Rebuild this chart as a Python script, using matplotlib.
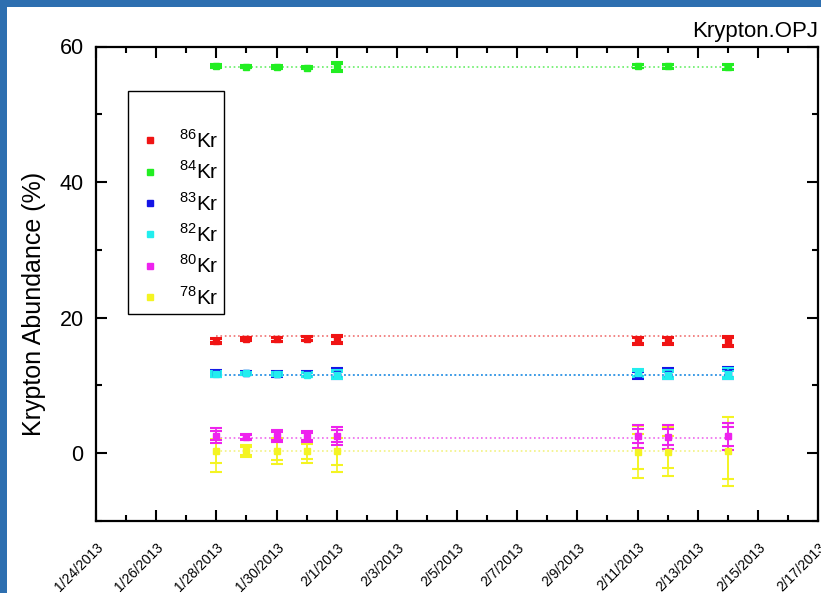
import matplotlib
matplotlib.use('Agg')
import matplotlib.pyplot as plt
import matplotlib.dates as mdates
import matplotlib.ticker as mticker
from matplotlib.patches import Rectangle
from datetime import datetime

plt.rcParams['font.family'] = ['Liberation Sans', 'DejaVu Sans']
plt.rcParams['mathtext.fontset'] = 'custom'
plt.rcParams['mathtext.rm'] = 'Liberation Sans'

# measurement dates
dates = ['2013-01-28', '2013-01-29', '2013-01-30', '2013-01-31', '2013-02-01',
         '2013-02-11', '2013-02-12', '2013-02-14']

# abundances (%) with outer / inner error bars
kr86 = [16.6, 16.8, 16.8, 16.9, 16.8, 16.6, 16.6, 16.5]
kr86_err = [0.45, 0.3, 0.4, 0.4, 0.7, 0.6, 0.6, 0.8]
kr86_err2 = [0.25, 0.15, 0.2, 0.2, 0.4, 0.35, 0.4, 0.5]

kr84 = [57.1, 57.0, 57.0, 56.9, 57.0, 57.1, 57.1, 57.0]
kr84_err = [0.3, 0.2, 0.25, 0.2, 0.7, 0.3, 0.35, 0.4]
kr84_err2 = [0.15, 0.1, 0.15, 0.1, 0.4, 0.2, 0.2, 0.25]

kr83 = [11.8, 11.8, 11.7, 11.7, 11.7, 11.6, 11.7, 11.8]
kr83_err = [0.5, 0.3, 0.45, 0.45, 0.8, 0.7, 0.8, 0.9]
kr83_err2 = [0.3, 0.15, 0.25, 0.25, 0.5, 0.4, 0.45, 0.55]

kr82 = [11.7, 11.8, 11.7, 11.6, 11.6, 11.8, 11.6, 11.7]
kr82_err = [0.4, 0.25, 0.35, 0.35, 0.7, 0.6, 0.7, 0.8]
kr82_err2 = [0.2, 0.1, 0.2, 0.2, 0.4, 0.35, 0.4, 0.45]

kr80 = [2.6, 2.4, 2.5, 2.5, 2.5, 2.5, 2.4, 2.5]
kr80_err = [1.1, 0.5, 0.9, 0.8, 1.3, 1.7, 1.8, 2.0]
kr80_err2 = [0.7, 0.3, 0.6, 0.5, 0.9, 1.0, 1.2, 1.4]

kr78 = [0.3, 0.3, 0.3, 0.3, 0.3, 0.2, 0.2, 0.3]
kr78_err = [3.0, 0.9, 1.9, 1.7, 3.1, 3.8, 3.6, 5.1]
kr78_err2 = [1.8, 0.6, 1.3, 1.1, 2.0, 2.6, 2.4, 4.1]

# mean (reference) lines
means = {'86': 17.3, '84': 57.0, '83': 11.5, '82': 11.5, '80': 2.3, '78': 0.35}

COLORS = {'86': '#f01414', '84': '#22ee22', '83': '#1414e6', '82': '#22eeee',
          '80': '#ee22ee', '78': '#f4f422'}
LINE_COLORS = {'86': '#f07070', '84': '#66ee66', '83': '#3a9ae6', '82': '#3a9ae6',
               '80': '#ee66ee', '78': '#f2f280'}

series = [('86', kr86, kr86_err, kr86_err2),
          ('84', kr84, kr84_err, kr84_err2),
          ('83', kr83, kr83_err, kr83_err2),
          ('82', kr82, kr82_err, kr82_err2),
          ('80', kr80, kr80_err, kr80_err2),
          ('78', kr78, kr78_err, kr78_err2)]
draw_order = ['78', '80', '83', '82', '84', '86']

x = [datetime.strptime(d, '%Y-%m-%d') for d in dates]

fig = plt.figure(figsize=(8.21, 5.93), dpi=100)
fig.patch.set_facecolor('white')
ax = fig.add_axes([96 / 821, 1 - 521 / 593, 722 / 821, 474.5 / 593])

lookup = {s[0]: s for s in series}
handles = {}
for z, iso in enumerate(draw_order):
    _, vals, err, err2 = lookup[iso]
    c = COLORS[iso]
    ax.hlines(means[iso], x[0], x[-1], colors=LINE_COLORS[iso], linestyles=':',
              linewidth=1.2, zorder=1)
    ax.errorbar(x, vals, yerr=err, fmt='none', ecolor=c, elinewidth=1.2,
                capsize=4.5, capthick=1.5, zorder=2 + z * 0.1)
    ax.errorbar(x, vals, yerr=err2, fmt='none', ecolor=c, elinewidth=1.2,
                capsize=4.5, capthick=1.5, zorder=2 + z * 0.1)
    h, = ax.plot(x, vals, 's', color=c, markersize=4.8, linestyle='none',
                 zorder=3 + z * 0.1, label='$^{%s}$Kr' % iso)
    handles[iso] = h

leg = ax.legend([handles[s[0]] for s in series], [handles[s[0]].get_label() for s in series],
                loc='upper left', bbox_to_anchor=(0.044, 0.906), borderaxespad=0,
                fontsize=15, title=' ', title_fontsize=19, fancybox=False,
                edgecolor='black', framealpha=1, handlelength=1.6, handletextpad=0.6,
                labelspacing=0.42, borderpad=0.25)
leg.get_frame().set_linewidth(1.0)

ax.set_ylim(-10, 60)
ax.set_xlim(datetime(2013, 1, 24), datetime(2013, 2, 17))
ax.yaxis.set_major_locator(mticker.MultipleLocator(20))
ax.yaxis.set_minor_locator(mticker.MultipleLocator(10))
ax.xaxis.set_major_locator(mdates.DayLocator(interval=2))
ax.xaxis.set_minor_locator(mdates.DayLocator())
ax.xaxis.set_major_formatter(mticker.FuncFormatter(
    lambda v, p: '{d.month}/{d.day}/{d.year}'.format(d=mdates.num2date(v))))

ax.tick_params(which='both', direction='in', top=True, right=True, width=1.5)
ax.tick_params(which='major', length=8)
ax.tick_params(which='minor', length=4)
ax.tick_params(axis='y', labelsize=15.5, pad=9)
ax.tick_params(axis='x', labelsize=10, pad=14)
for lbl in ax.get_xticklabels():
    lbl.set_rotation(45)
    lbl.set_ha('right')
    lbl.set_rotation_mode('anchor')
for sp in ax.spines.values():
    sp.set_linewidth(1.6)

ax.set_ylabel('Krypton Abundance (%)', fontsize=18)
ax.yaxis.set_label_coords(-0.069, 0.457)
ax.set_title('Krypton.OPJ', loc='right', fontsize=16, pad=7)

# blue frame strips on top and left
border = '#2e6fb0'
fig.patches.append(Rectangle((0, 1 - 7 / 593), 1, 7 / 593, transform=fig.transFigure,
                             facecolor=border, edgecolor='none', zorder=10))
fig.patches.append(Rectangle((0, 0), 7 / 821, 1, transform=fig.transFigure,
                             facecolor=border, edgecolor='none', zorder=10))

fig.savefig('out.png', dpi=100, facecolor='white')
